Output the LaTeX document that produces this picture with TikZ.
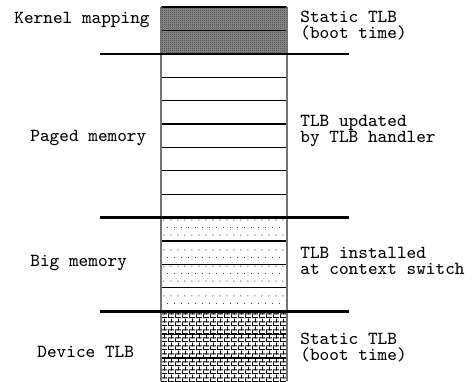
\documentclass[tikz,border=0pt]{standalone}
\usepackage{fontspec}
\usetikzlibrary{patterns.meta}

%% fill patterns for the three kinds of memory
\tikzdeclarepattern{name=finechecker,type=uncolored,
  tile size={(1pt,1pt)},bounding box={(0pt,0pt) and (1pt,1pt)},
  code={\fill (0pt,0pt) rectangle (0.5pt,0.5pt);
        \fill (0.5pt,0.5pt) rectangle (1pt,1pt);}}
\tikzdeclarepattern{name=sparsedots,type=uncolored,
  tile size={(3.65pt,7.7pt)},bounding box={(0pt,0pt) and (3.65pt,7.7pt)},
  code={\fill (0pt,0pt) rectangle (0.5pt,0.5pt);
        \fill (1.825pt,3.85pt) rectangle (2.325pt,4.35pt);}}
\tikzdeclarepattern{name=smallbricks,type=uncolored,
  tile size={(3.5pt,4pt)},bounding box={(0pt,0pt) and (3.5pt,4pt)},
  code={\fill (0pt,0pt) rectangle (3.5pt,0.5pt);
        \fill (0pt,2pt) rectangle (3.5pt,2.5pt);
        \fill (0pt,0pt) rectangle (0.5pt,2pt);
        \fill (1.75pt,2pt) rectangle (2.25pt,4pt);}}

\begin{document}
\begin{tikzpicture}
[x=0.5pt,y=-0.5pt,
  kernelrow/.style={fill=black!45,postaction={pattern={finechecker},pattern color=black!80}},%
  pagedrow/.style={fill=white},%
  bigrow/.style={pattern={sparsedots},pattern color=black!75},%
  devicerow/.style={pattern={smallbricks},pattern color=black},%
  rowline/.style={-,line width=0.55pt},%
  sideline/.style={-,line width=0.75pt,draw=black!55},%
  splitline/.style={-,line width=1.3pt},%
  labeldecorate/.style={font=\ttfamily\fontsize{9.2}{7.8}\selectfont,
    align=left,inner sep=0pt,anchor=base west}]
\useasboundingbox (0,0) rectangle (476,381);
%% rows of the memory column
\foreach \first/\last/\kind in {0/1/kernelrow, 2/8/pagedrow,
  9/12/bigrow, 13/15/devicerow} {
  \foreach \row in {\first,...,\last} {
    \path[\kind] (161,7+\row*23.4) rectangle (287,30.4+\row*23.4);
  }
}
\foreach \row in {0,...,15} {
  \draw[rowline] (161,7+\row*23.4) -- (287,7+\row*23.4);
}
\draw[sideline] (161,7) -- (161,381.4);
\draw[sideline] (287,7) -- (287,381.4);
%% region boundaries
\foreach \row in {2,9,13} {
  \draw[splitline] (100,7+\row*23.4) -- (349,7+\row*23.4);
}
%% labels left and right of the column (base = last line)
\foreach \nodename/\x/\y/\text in {
  kernel/14/23/Kernel mapping, paged/30/141.5/Paged memory,
  big/30/266/Big memory, device/37/357/Device TLB,
  kernelnote/300/38.5/Static TLB\\(boot time),
  pagednote/300/142.3/TLB updated\\by TLB handler,
  bignote/300/274.3/TLB installed\\at context switch,
  devicenote/300/360/Static TLB\\(boot time)} {
  \node (\nodename) at (\x,\y) [labeldecorate] {\text};
}
\end{tikzpicture}
\end{document}
